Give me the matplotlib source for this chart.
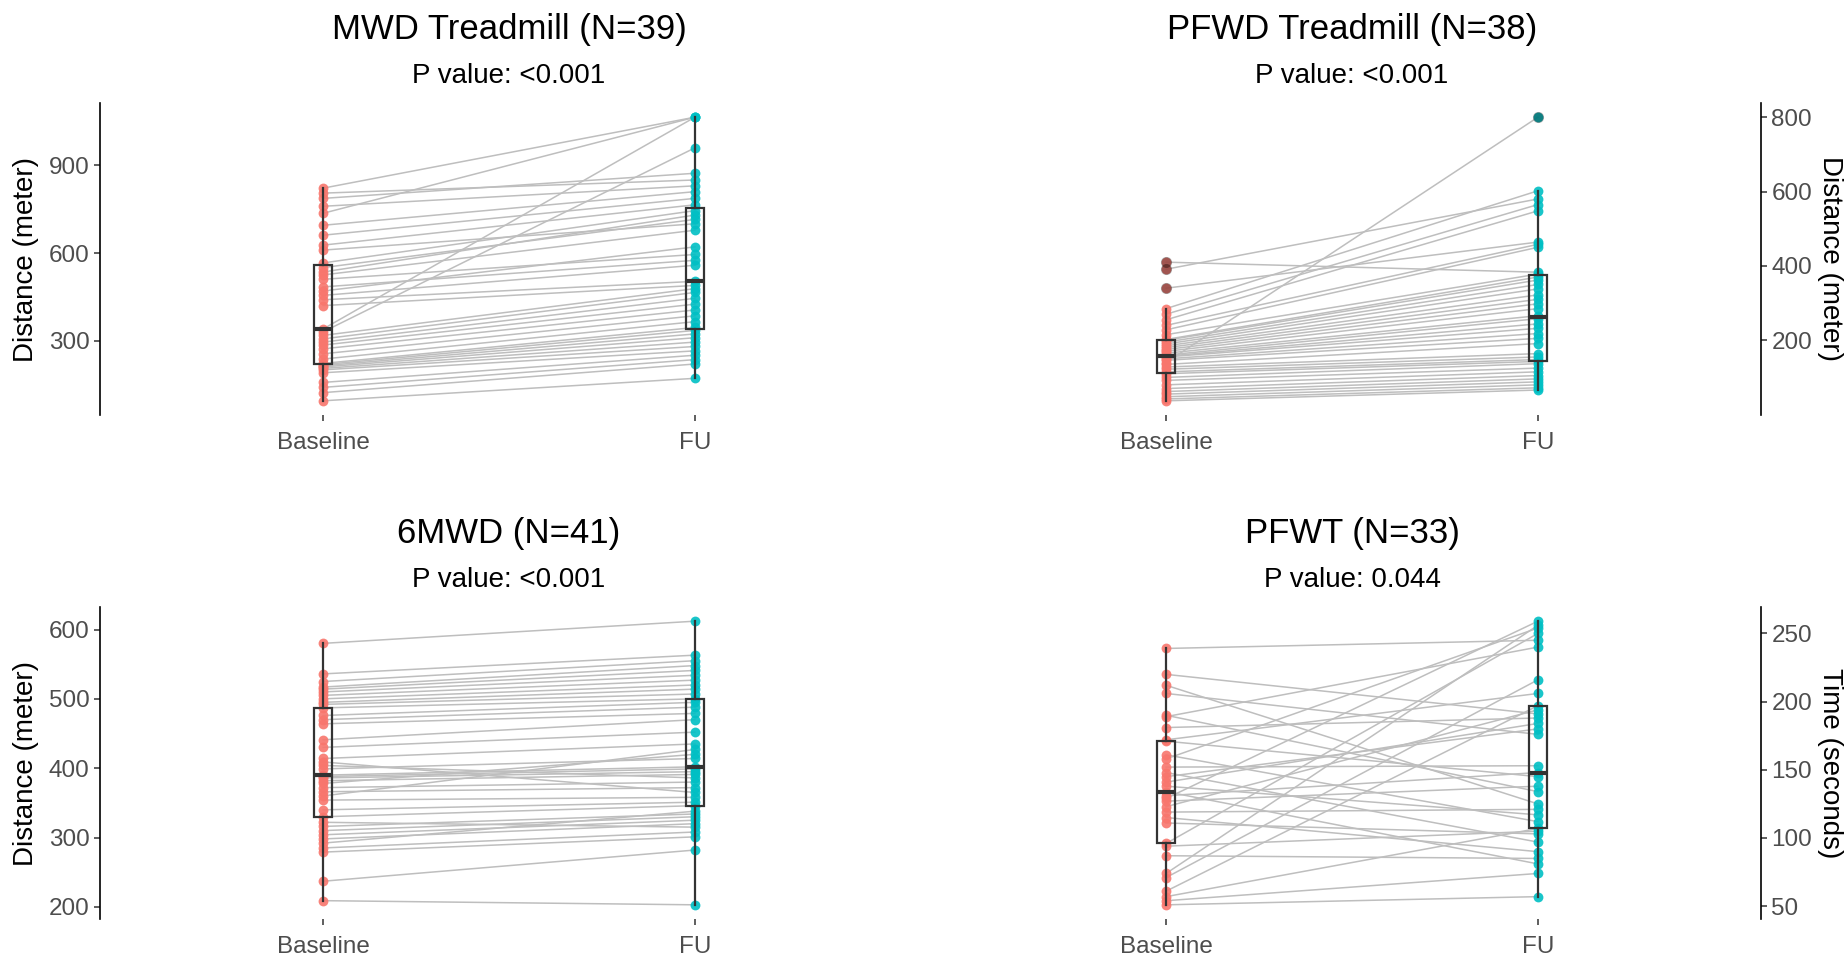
import matplotlib
matplotlib.use("Agg")
import matplotlib.pyplot as plt
import numpy as np

plt.rcParams['font.family'] = ['Liberation Sans', 'DejaVu Sans']

# paired values, same subject order in each pair of lists
mwd_base = [822, 805, 787, 760, 736, 695, 661, 627, 610, 566, 550, 535, 525, 510, 484,
            470, 455, 440, 420, 340, 330, 318, 306, 295, 285, 272, 255, 237, 222, 218,
            214, 210, 205, 200, 190, 157, 140, 122, 94]
mwd_fu = [1065, 850, 873, 830, 1065, 810, 787, 765, 700, 745, 715, 730, 678, 595, 575,
          621, 558, 503, 489, 1065, 960, 478, 465, 445, 425, 405, 385, 365, 345, 335,
          323, 310, 295, 280, 265, 250, 235, 220, 171]

pfwd_base = [410, 391, 340, 285, 270, 255, 240, 228, 215, 202, 200, 195, 190, 185, 180,
             175, 170, 165, 160, 157, 155, 150, 146, 140, 135, 128, 122, 115, 110, 100,
             92, 80, 70, 62, 55, 48, 42, 37]
pfwd_fu = [383, 580, 464, 602, 565, 548, 458, 450, 378, 370, 362, 350, 338, 322, 310,
           298, 285, 266, 258, 244, 232, 218, 205, 800, 191, 164, 155, 148, 143, 137,
           125, 115, 105, 96, 88, 80, 72, 66]

smwd_base = [580, 536, 525, 517, 514, 510, 505, 500, 495, 492, 487, 476, 470, 464, 441,
             430, 414, 409, 404, 399, 390, 388, 386, 382, 378, 372, 366, 360, 354, 340,
             330, 322, 316, 310, 304, 298, 292, 285, 279, 237, 209]
smwd_fu = [612, 563, 555, 548, 541, 534, 527, 520, 514, 507, 500, 495, 488, 479, 470,
           452, 435, 365, 386, 414, 402, 399, 395, 391, 420, 380, 372, 427, 358, 351,
           346, 315, 334, 330, 325, 320, 338, 308, 301, 282, 203]

pfwt_base = [239, 220, 212, 206, 190, 189, 181, 172, 171, 161, 158, 152, 148, 145, 141,
             138, 134, 131, 129, 127, 123, 119, 115, 111, 96, 94, 87, 74, 71, 61, 57, 54, 51]
pfwt_fu = [245, 191, 125, 176, 134, 240, 188, 206, 145, 112, 254, 153, 97, 180, 184,
           117, 81, 148, 259, 138, 194, 121, 90, 103, 250, 105, 85, 256, 216, 197, 107, 74, 57]

titles = ["MWD Treadmill (N=39)", "PFWD Treadmill (N=38)", "6MWD (N=41)", "PFWT (N=33)"]
pvalues = ["P value: <0.001", "P value: <0.001", "P value: <0.001", "P value: 0.044"]
ylabels = ["Distance (meter)", "Distance (meter)", "Distance (meter)", "Time (seconds)"]
yticks = [[300, 600, 900], [200, 400, 600, 800], [200, 300, 400, 500, 600],
          [50, 100, 150, 200, 250]]
groups = ["Baseline", "FU"]

data = [(mwd_base, mwd_fu), (pfwd_base, pfwd_fu), (smwd_base, smwd_fu), (pfwt_base, pfwt_fu)]

fig = plt.figure(figsize=(18.47, 9.58), dpi=100)
W, H = 1847, 958
boxes = [(100, 103), (943, 103), (100, 607), (943, 607)]
pw, ph = 818, 312

for i, (base, fu) in enumerate(data):
    left, top = boxes[i]
    ax = fig.add_axes([left / W, 1 - (top + ph) / H, pw / W, ph / H])
    base = np.array(base)
    fu = np.array(fu)
    n = len(base)

    # paired lines
    ax.plot(np.vstack([np.ones(n), np.full(n, 2.0)]), np.vstack([base, fu]),
            color="#BEBEBE", lw=1.1, zorder=1)
    ax.scatter(np.ones(n), base, s=50, color="#F8766D", alpha=0.9, lw=0, zorder=2)
    ax.scatter(np.full(n, 2.0), fu, s=50, color="#00BFC4", alpha=0.9, lw=0, zorder=2)

    ax.boxplot([base, fu], positions=[1, 2], widths=0.05, patch_artist=True,
               showcaps=False, zorder=3,
               boxprops=dict(facecolor="none", edgecolor="#333333", lw=1.6),
               whiskerprops=dict(color="#333333", lw=1.6),
               medianprops=dict(color="#333333", lw=3),
               flierprops=dict(marker="o", markerfacecolor="black", markeredgecolor="none",
                               alpha=0.35, markersize=8))

    ax.set_xlim(0.4, 2.6)
    ax.set_xticks([1, 2])
    ax.set_xticklabels(groups)
    ax.set_yticks(yticks[i])
    ax.tick_params(axis="both", labelsize=17.5, labelcolor="#4D4D4D", color="#333333",
                   length=4, width=1.1)
    ax.tick_params(axis="x", pad=8)
    for s in ["top", "bottom", "right", "left"]:
        ax.spines[s].set_visible(False)

    if i % 2 == 0:
        ax.spines["left"].set_visible(True)
        ax.spines["left"].set_linewidth(1.2)
        ax.set_ylabel(ylabels[i], fontsize=20, color="black", va="center", ha="center")
        ax.yaxis.set_label_coords(-0.091, 0.5)
    else:
        ax.spines["right"].set_visible(True)
        ax.spines["right"].set_linewidth(1.2)
        ax.yaxis.tick_right()
        ax.yaxis.set_label_position("right")
        ax.set_ylabel(ylabels[i], fontsize=20, color="black", rotation=-90,
                      va="center", ha="center")
        ax.yaxis.set_label_coords(1.084, 0.5)

    ax.text(0.5, 1.237, titles[i], transform=ax.transAxes, ha="center", va="center",
            fontsize=25)
    ax.text(0.5, 1.085, pvalues[i], transform=ax.transAxes, ha="center", va="center",
            fontsize=20)

fig.savefig("out.png", dpi=100)
